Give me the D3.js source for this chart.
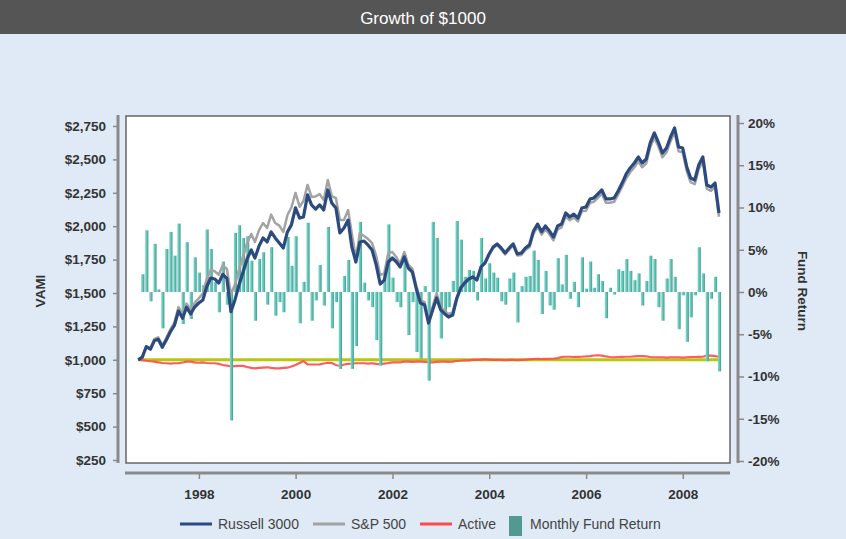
<!DOCTYPE html>
<html><head><meta charset="utf-8">
<script src="https://cdn.jsdelivr.net/npm/d3@7"></script>
<style>
html,body{margin:0;padding:0;background:#dfeaf6;}
svg{display:block;font-family:"Liberation Sans",Arial,sans-serif;}
</style></head><body>
<svg id="c" width="846" height="539"></svg>
<script>
const title = "Growth of $1000";
const firstMonth = [1996, 8]; // Sep 1996 (month index 0-based)
const russell3000 = [1000,1020,1098,1079,1145,1153,1094,1148,1210,1257,
1365,1311,1393,1343,1395,1425,1448,1545,1612,1605,
1575,1640,1610,1360,1448,1560,1655,1755,1822,1762,
1852,1912,1882,1957,1912,1874,1837,1957,2010,2137,
2061,2069,2234,2159,2128,2160,2121,2271,2174,2136,
1950,1987,2046,1845,1732,1882,1889,1860,1822,1710,
1567,1597,1732,1762,1732,1695,1770,1687,1657,1530,
1425,1410,1275,1373,1463,1373,1343,1320,1335,1455,
1537,1575,1605,1620,1597,1695,1725,1792,1844,1867,
1837,1800,1837,1867,1792,1800,1837,1860,1964,2016,
1959,2002,1964,1919,2002,2016,2099,2069,2091,2061,
2136,2144,2204,2211,2241,2271,2204,2204,2211,2264,
2323,2391,2436,2473,2518,2473,2503,2623,2698,2630,
2548,2585,2668,2735,2593,2585,2443,2361,2346,2458,
2518,2308,2293,2323,2099];
const sp500 = [1000,1023,1102,1085,1157,1168,1109,1163,1228,1279,
1395,1341,1421,1373,1427,1460,1498,1600,1672,1663,
1637,1708,1680,1490,1563,1675,1773,1873,1942,1882,
1970,2024,1987,2087,2024,2004,1957,2082,2140,2249,
2146,2189,2309,2219,2223,2240,2196,2346,2226,2211,
2047,2047,2121,1945,1762,1949,1926,1905,1874,1777,
1634,1649,1799,1807,1767,1720,1807,1712,1682,1552,
1447,1432,1295,1398,1500,1395,1365,1342,1357,1467,
1547,1583,1610,1622,1597,1692,1720,1787,1836,1859,
1827,1788,1825,1855,1780,1785,1822,1842,1944,1994,
1937,1977,1939,1894,1977,1991,2074,2044,2066,2036,
2111,2116,2176,2183,2213,2243,2176,2176,2183,2236,
2295,2359,2404,2441,2486,2441,2471,2591,2663,2598,
2516,2553,2636,2700,2561,2553,2411,2329,2314,2426,
2486,2280,2265,2295,2071];
const active = [1000,998,993,989,986,981,976,974,972,974,
974,980,986,986,981,978,980,976,974,974,
969,961,957,950,952,954,954,946,940,936,
939,942,944,939,936,936,939,941,950,961,
976,991,966,965,965,966,972,978,976,961,
954,965,969,971,974,974,974,972,974,969,
966,972,976,981,980,981,986,986,984,986,
986,984,980,981,984,986,986,984,986,991,
993,995,996,999,1000,1002,1004,1002,1000,999,
999,997,999,999,997,999,1001,1004,1006,1007,
1006,1007,1008,1008,1013,1021,1023,1023,1021,1022,
1023,1025,1028,1032,1034,1031,1025,1021,1019,1021,
1022,1023,1023,1026,1028,1028,1025,1021,1019,1019,
1019,1017,1019,1019,1019,1017,1019,1021,1021,1022,
1023,1031,1031,1028,1023];
// Monthly fund return (%), Oct 1996 .. Sep 2008
const fundReturn = [2.1,7.3,-1.1,5.7,0.3,-4.3,5.1,7.1,4.3,8.1,
-3.8,5.9,-3.2,4.1,2.3,0.8,7.4,5.1,1.2,-2.4,
3.6,-1.5,-15.2,7.0,7.9,6.4,6.6,3.7,-3.4,3.9,
4.7,-1.5,5.3,-2.8,-1.2,-2.4,6.5,3.1,6.6,-3.7,
1.2,8.2,-3.4,-1.0,3.2,-1.6,7.7,-4.3,-1.2,-9.1,
1.9,3.8,-9.1,-6.4,8.3,1.1,-1.0,-1.8,-5.7,-8.7,
2.0,8.0,1.7,-1.2,-1.8,4.5,-5.1,-1.2,-7.1,-7.9,
0.7,-10.5,8.3,6.4,-5.5,-2.4,-1.8,1.3,8.4,6.2,
1.8,2.6,2.5,-1.0,6.4,1.6,3.4,2.3,1.7,-1.1,
-1.5,1.6,2.3,-3.6,0.7,1.8,1.9,4.9,3.8,-2.6,
2.5,-1.6,-2.1,4.0,0.9,4.4,-0.8,1.2,-1.8,4.1,
0.4,3.6,0.5,2.1,1.3,-3.1,0.5,-0.3,2.7,2.5,
3.9,2.5,1.4,2.2,-1.6,1.3,4.3,3.9,-1.8,-3.4,
1.6,3.9,1.8,-4.4,-0.4,-5.9,-3.0,-0.4,5.3,2.2,
-8.2,-0.8,1.8,-9.4];
const baselineValue = 1000;
const vamiTicks = [250,500,750,1000,1250,1500,1750,2000,2250,2500,2750];
const returnTicks = [-20,-15,-10,-5,0,5,10,15,20];
const yearTicks = [1998,2000,2002,2004,2006,2008];
const legendLabels = ["Russell 3000","S&P 500","Active","Monthly Fund Return"];

const colors = {russell:"#2b4a7f", sp:"#a3a3a3", active:"#ff4a4a", base:"#b7c70a", bar:"#529a8f"};

const months = russell3000.map((_, i) => new Date(firstMonth[0], firstMonth[1] + i + 1, 0));

const svg = d3.select("#c");
const W = 846, H = 539;
svg.append("rect").attr("width", W).attr("height", H).attr("fill", "#dfeaf6");
svg.append("rect").attr("width", W).attr("height", 34).attr("fill", "#555555");
svg.append("text").attr("x", 423).attr("y", 24).attr("text-anchor", "middle")
  .attr("fill", "#fff").attr("font-size", 17).text(title);

const plot = {l:126, t:116, r:730, b:463};
svg.append("rect").attr("x", plot.l).attr("y", plot.t).attr("width", plot.r - plot.l).attr("height", plot.b - plot.t)
  .attr("fill", "#fff").attr("stroke", "#666").attr("stroke-width", 1.5);

const x = d3.scaleTime().domain([months[0], months[months.length - 1]]).range([138.2, 719]);
const yL = d3.scaleLinear().domain([250, 2750]).range([460, 126]);
const yR = d3.scaleLinear().domain([-20, 20]).range([461, 123]);

const defs = svg.append("defs");
const g = defs.append("linearGradient").attr("id", "barGrad").attr("x1", 0).attr("x2", 1).attr("y1", 0).attr("y2", 0);
g.append("stop").attr("offset", 0).attr("stop-color", "#7ddccf");
g.append("stop").attr("offset", 0.45).attr("stop-color", "#62c7b9");
g.append("stop").attr("offset", 1).attr("stop-color", "#4a978d");

svg.append("line").attr("x1", x(months[0])).attr("x2", x(months[months.length - 1]))
  .attr("y1", yL(baselineValue)).attr("y2", yL(baselineValue))
  .attr("stroke", colors.base).attr("stroke-width", 3);

const line = d3.line().x((d, i) => x(months[i])).y(d => yL(d));
svg.append("path").datum(active).attr("d", line).attr("fill", "none")
  .attr("stroke", colors.active).attr("stroke-width", 2.2).attr("stroke-opacity", 0.9);

svg.append("g").selectAll("rect").data(fundReturn).join("rect")
  .attr("x", (d, i) => x(months[i + 1]) - 1.1)
  .attr("width", 3.2)
  .attr("y", d => Math.min(yR(d), yR(0)))
  .attr("height", d => Math.abs(yR(d) - yR(0)))
  .attr("fill", "url(#barGrad)");

svg.append("path").datum(sp500).attr("d", line).attr("fill", "none")
  .attr("stroke", colors.sp).attr("stroke-width", 2.5).attr("stroke-linejoin", "round");
svg.append("path").datum(russell3000).attr("d", line).attr("fill", "none")
  .attr("stroke", colors.russell).attr("stroke-width", 3.2).attr("stroke-linejoin", "round");

function styleAxis(sel) {
  sel.select(".domain").remove();
  sel.selectAll(".tick line").attr("stroke", "#8a8a8a").attr("stroke-width", 1.5);
  sel.selectAll(".tick text").attr("fill", "#333").attr("font-size", 13.5).attr("font-weight", "bold")
    .attr("font-family", "'Liberation Sans', Arial, sans-serif");
}
const axL = svg.append("g").attr("transform", "translate(118,0)")
  .call(d3.axisLeft(yL).tickValues(vamiTicks).tickSize(5).tickPadding(7).tickFormat(d => "$" + d3.format(",")(d)));
styleAxis(axL);
svg.append("line").attr("x1", 118).attr("x2", 118).attr("y1", 115).attr("y2", 463).attr("stroke", "#8a8a8a").attr("stroke-width", 3);

const axR = svg.append("g").attr("transform", "translate(738,0)")
  .call(d3.axisRight(yR).tickValues(returnTicks).tickSize(6).tickPadding(4).tickFormat(d => d + "%"));
styleAxis(axR);
svg.append("line").attr("x1", 738).attr("x2", 738).attr("y1", 115).attr("y2", 463).attr("stroke", "#8a8a8a").attr("stroke-width", 3);

const axB = svg.append("g").attr("transform", "translate(0,473)")
  .call(d3.axisBottom(x).tickValues(yearTicks.map(y => new Date(y, 0, 1))).tickSize(6).tickPadding(10).tickFormat(d3.timeFormat("%Y")));
styleAxis(axB);
svg.append("line").attr("x1", 125).attr("x2", 730).attr("y1", 473).attr("y2", 473).attr("stroke", "#8a8a8a").attr("stroke-width", 3);

svg.append("text").attr("transform", "translate(45,291) rotate(-90)").attr("text-anchor", "middle")
  .attr("font-size", 13.5).attr("font-weight", "bold").attr("fill", "#333").text("VAMI");
svg.append("text").attr("transform", "translate(798,291) rotate(90)").attr("text-anchor", "middle")
  .attr("font-size", 13.5).attr("font-weight", "bold").attr("fill", "#333").text("Fund Return");

const lg = svg.append("g").attr("font-size", 14).attr("fill", "#444");
const lineItems = [[180, colors.russell, legendLabels[0]], [313, colors.sp, legendLabels[1]], [420, colors.active, legendLabels[2]]];
lineItems.forEach(([lx, c, t]) => {
  lg.append("line").attr("x1", lx).attr("x2", lx + 32).attr("y1", 524).attr("y2", 524).attr("stroke", c).attr("stroke-width", 3);
  lg.append("text").attr("x", lx + 38).attr("y", 529).text(t);
});
lg.append("rect").attr("x", 509).attr("y", 516).attr("width", 13).attr("height", 20).attr("fill", colors.bar);
lg.append("text").attr("x", 530).attr("y", 529).text(legendLabels[3]);
</script>
</body></html>
